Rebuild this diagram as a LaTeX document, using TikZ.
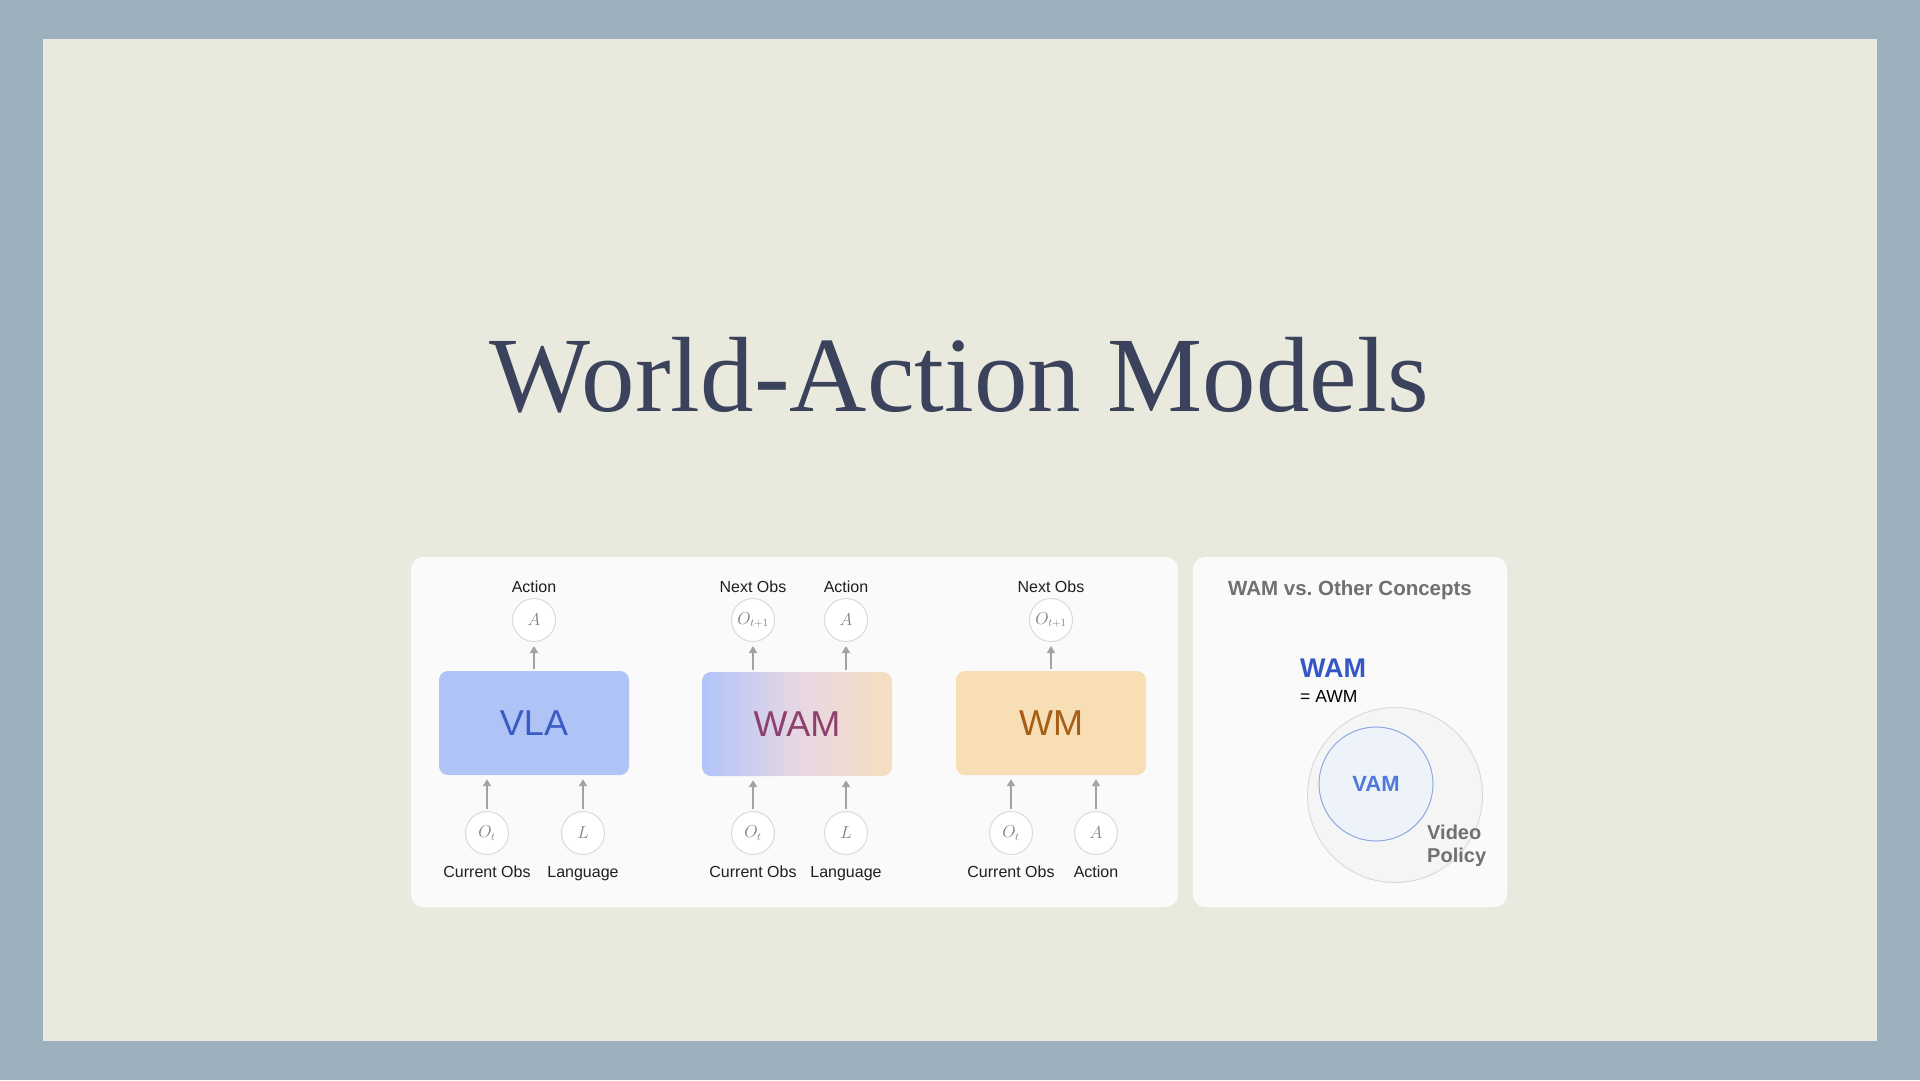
\documentclass[tikz,border=0pt]{standalone}
\usepackage{fontspec}
\setsansfont{Liberation Sans}
\newfontfamily\titlefont{Liberation Serif}
\usetikzlibrary{arrows.meta}

\definecolor{frameBlue}{RGB}{156,177,189}
\definecolor{paper}{RGB}{233,233,222}
\definecolor{titleInk}{RGB}{58,67,91}
\definecolor{panelWhite}{RGB}{250,250,250}
\definecolor{vlaFill}{RGB}{175,195,246}
\definecolor{vlaInk}{RGB}{59,91,196}
\definecolor{wamLeft}{RGB}{177,196,248}
\definecolor{wamMid}{RGB}{231,215,228}
\definecolor{wamRight}{RGB}{246,222,192}
\definecolor{wamInk}{RGB}{142,63,110}
\definecolor{wmFill}{RGB}{247,222,180}
\definecolor{wmInk}{RGB}{166,94,22}
\definecolor{arrGrey}{RGB}{162,162,162}
\definecolor{ringGrey}{RGB}{218,218,218}
\definecolor{mathGrey}{RGB}{128,128,128}
\definecolor{conceptGrey}{RGB}{112,112,112}
\definecolor{wamBlue}{RGB}{53,87,197}
\definecolor{vamBlue}{RGB}{80,121,218}
\definecolor{vamFill}{RGB}{238,243,250}
\definecolor{vamRing}{RGB}{143,168,224}
\definecolor{policyFill}{RGB}{245,245,245}

\tikzset{
	model/.style={rectangle,rounded corners=9pt,minimum width=190pt,minimum height=104pt,font=\sffamily\fontsize{36}{36}\selectfont},
	var/.style={circle,draw=ringGrey,fill=white,line width=1pt,minimum size=43pt,inner sep=0pt,text=mathGrey,font=\fontsize{16}{16}\selectfont},
	tag/.style={anchor=base,font=\sffamily\fontsize{16}{16}\selectfont,text=black!88},
	flow/.style={-{Triangle[length=7pt,width=8pt]},draw=arrGrey,line width=2.5pt,shorten >=4pt,shorten <=2pt},
	panel/.style={fill=panelWhite,rounded corners=12pt}
}

\begin{document}
\begin{tikzpicture}[x=1pt,y=-1pt]
	\useasboundingbox (0,0) rectangle (1920,1080);
	\fill[frameBlue] (0,0) rectangle (1920,1080);
	\fill[paper] (43,39) rectangle (1877,1041);
	\node[anchor=base,text=titleInk,font=\titlefont\fontsize{107}{107}\selectfont](title) at (959,411){World-Action Models};
	
	\fill[panel] (411,557) rectangle (1178,907);
	\fill[panel] (1193,557) rectangle (1507,907);
	
	% VLA
	\node[model,fill=vlaFill,text=vlaInk](vla) at (534,723){VLA};
	\node[var](vlaAct) at (534,620){$A$};
	\node[var](vlaObs) at (487,833){$O_t$};
	\node[var](vlaLang) at (583,833){$L$};
	\node[tag](vlaActTag) at (534,592){Action};
	\node[tag](vlaObsTag) at (487,877){Current Obs};
	\node[tag](vlaLangTag) at (583,877){Language};
	\draw[flow](vla.north -| vlaAct)--(vlaAct);
	\draw[flow](vlaObs)--(vla.south -| vlaObs);
	\draw[flow](vlaLang)--(vla.south -| vlaLang);
	
	% WAM
	\node[model,left color=wamLeft,right color=wamRight,middle color=wamMid,text=wamInk](wam) at (797,724){WAM};
	\node[var](wamNext) at (753,620){$O_{t+1}$};
	\node[var](wamAct) at (846,620){$A$};
	\node[var](wamObs) at (753,833){$O_t$};
	\node[var](wamLang) at (846,833){$L$};
	\node[tag](wamNextTag) at (753,592){Next Obs};
	\node[tag](wamActTag) at (846,592){Action};
	\node[tag](wamObsTag) at (753,877){Current Obs};
	\node[tag](wamLangTag) at (846,877){Language};
	\draw[flow](wam.north -| wamNext)--(wamNext);
	\draw[flow](wam.north -| wamAct)--(wamAct);
	\draw[flow](wamObs)--(wam.south -| wamObs);
	\draw[flow](wamLang)--(wam.south -| wamLang);
	
	% WM
	\node[model,fill=wmFill,text=wmInk](wm) at (1051,723){WM};
	\node[var](wmNext) at (1051,620){$O_{t+1}$};
	\node[var](wmObs) at (1011,833){$O_t$};
	\node[var](wmAct) at (1096,833){$A$};
	\node[tag](wmNextTag) at (1051,592){Next Obs};
	\node[tag](wmObsTag) at (1011,877){Current Obs};
	\node[tag](wmActTag) at (1096,877){Action};
	\draw[flow](wm.north -| wmNext)--(wmNext);
	\draw[flow](wmObs)--(wm.south -| wmObs);
	\draw[flow](wmAct)--(wm.south -| wmAct);
	
	% concepts
	\node[anchor=base,font=\sffamily\bfseries\fontsize{20.5}{20.5}\selectfont,text=conceptGrey](cmpTitle) at (1350,595){WAM vs.\ Other Concepts};
	\node[anchor=base west,inner sep=0pt,font=\sffamily\bfseries\fontsize{27}{27}\selectfont,text=wamBlue](wamName) at (1300,677){WAM};
	\node[anchor=base west,inner sep=0pt,font=\sffamily\fontsize{17.5}{17.5}\selectfont](awmName) at (1300,702){= AWM};
	\node[circle,draw=ringGrey,fill=policyFill,line width=1pt,minimum size=175pt](policy) at (1395,795){};
	\node[circle,draw=vamRing,fill=vamFill,line width=1pt,minimum size=114pt,font=\sffamily\bfseries\fontsize{22}{22}\selectfont,text=vamBlue](vam) at (1376,784){VAM};
	\node[anchor=west,inner sep=0pt,align=left,font=\sffamily\bfseries\fontsize{20}{23}\selectfont,text=conceptGrey](policyTag) at (1427,846){Video\\Policy};
	
\end{tikzpicture}
\end{document}
